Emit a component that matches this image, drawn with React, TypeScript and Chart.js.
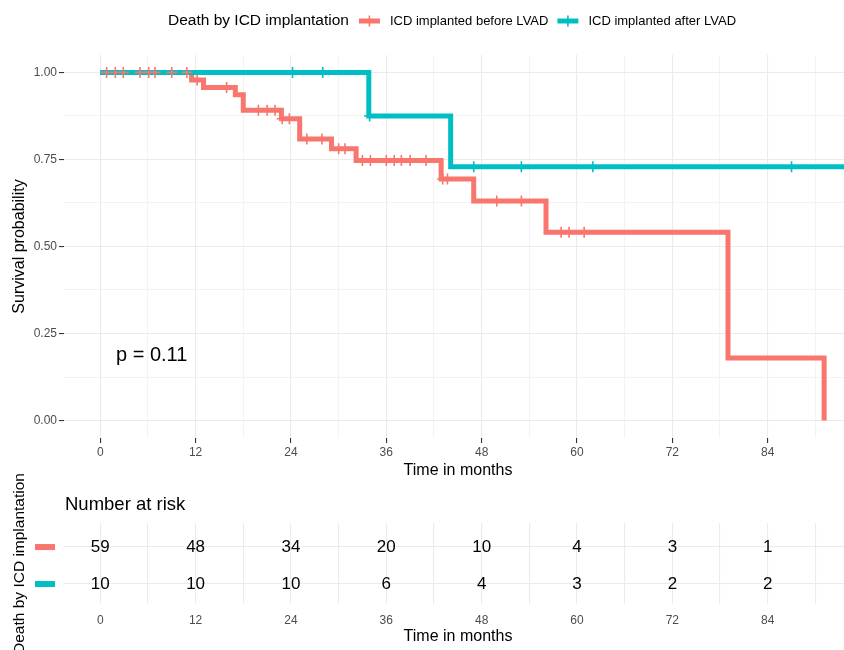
import React, { useEffect, useRef } from 'react';
import { Chart, registerables } from 'chart.js';

Chart.register(...registerables);

const RED = '#F8766D';
const TEAL = '#00BFC4';
const FONT = '"Liberation Sans", Arial, sans-serif';

// Kaplan-Meier steps: ICD implanted before LVAD
const beforeTimes = [0, 11.5, 13.0, 17.0, 18.0, 22.8, 25.1, 29.1, 32.2, 42.9, 47.0, 56.1, 79.0, 91.1];
const beforeSurv = [1, 0.978, 0.957, 0.936, 0.891, 0.867, 0.809, 0.781, 0.747, 0.694, 0.631, 0.541, 0.18, 0];
const beforeCensor = [0.8, 1.9, 2.9, 5.0, 6.1, 6.9, 9.0, 10.9, 12.2, 15.9, 19.9, 21.0, 22.0, 22.9, 23.8, 26.0, 27.9, 30.0, 30.8, 33.0, 34.0, 36.0, 37.0, 37.9, 39.0, 41.0, 43.1, 43.7, 49.9, 53.0, 58.0, 59.0, 60.9];

// Kaplan-Meier steps: ICD implanted after LVAD
const afterTimes = [0, 33.8, 44.1, 95];
const afterSurv = [1, 0.875, 0.729, 0.729];
const afterCensor = [24.2, 28.0, 33.9, 47.0, 53.0, 62.0, 87.0];

// Number at risk table
const riskTimes = [0, 12, 24, 36, 48, 60, 72, 84];
const riskBefore = [59, 48, 34, 20, 10, 4, 3, 1];
const riskAfter = [10, 10, 10, 6, 4, 3, 2, 2];

// Axis breaks
const xBreaks = [0, 6, 12, 18, 24, 30, 36, 42, 48, 54, 60, 66, 72, 78, 84, 90];
const yBreaks = [0, 0.125, 0.25, 0.375, 0.5, 0.625, 0.75, 0.875, 1];

const groupLabels = ['ICD implanted before LVAD', 'ICD implanted after LVAD'];
const legendTitle = 'Death by ICD implantation';
const pValueText = 'p = 0.11';

const X_MIN = -4.56;
const X_MAX = 93.6;

function survAt(times: number[], surv: number[], t: number) {
  let s = surv[0];
  for (let i = 0; i < times.length; i++) {
    if (times[i] <= t) s = surv[i];
  }
  return s;
}

const isMajorX = (v: number) => Math.abs(v % 12) < 1e-9;
const isMajorY = (v: number) => Math.abs((v * 4) - Math.round(v * 4)) < 1e-9;

const BOT_TOP = 455;

export default function App() {
  const topRef = useRef<HTMLCanvasElement>(null);
  const botRef = useRef<HTMLCanvasElement>(null);

  useEffect(() => {
    const topPlugin = {
      id: 'topOverlay',
      afterDraw(chart: any) {
        const ctx = chart.ctx;
        ctx.save();
        // legend
        ctx.textBaseline = 'middle';
        ctx.textAlign = 'left';
        ctx.fillStyle = '#000';
        const ly = 21;
        let x = 168;
        ctx.font = `15.5px ${FONT}`;
        ctx.fillText(legendTitle, x, ly);
        x += ctx.measureText(legendTitle).width + 10;
        const colors = [RED, TEAL];
        ctx.font = `13px ${FONT}`;
        groupLabels.forEach((lab, i) => {
          ctx.strokeStyle = colors[i];
          ctx.lineWidth = 5;
          ctx.beginPath();
          ctx.moveTo(x, ly);
          ctx.lineTo(x + 21, ly);
          ctx.stroke();
          ctx.lineWidth = 1.6;
          ctx.beginPath();
          ctx.moveTo(x + 10.5, ly - 5.5);
          ctx.lineTo(x + 10.5, ly + 5.5);
          ctx.stroke();
          x += 31;
          ctx.fillStyle = '#000';
          ctx.fillText(lab, x, ly);
          x += ctx.measureText(lab).width + 9;
        });
        // axis titles
        ctx.font = `16px ${FONT}`;
        ctx.textAlign = 'center';
        ctx.fillText('Time in months', 458, 471);
        ctx.save();
        ctx.translate(20, (chart.chartArea.top + chart.chartArea.bottom) / 2);
        ctx.rotate(-Math.PI / 2);
        ctx.fillText('Survival probability', 0, 0);
        ctx.restore();
        // p-value
        ctx.font = `20px ${FONT}`;
        ctx.textAlign = 'left';
        ctx.fillText(pValueText, 116, 355);
        ctx.restore();
      },
    };

    const lineDs = (times: number[], surv: number[], color: string, order: number) => ({
      data: times.map((t, i) => ({ x: t, y: surv[i] })),
      borderColor: color,
      backgroundColor: color,
      borderWidth: 5,
      stepped: 'before' as const,
      pointRadius: 0,
      fill: false,
      borderCapStyle: 'butt' as const,
      borderJoinStyle: 'miter' as const,
      order,
    });
    const censorDs = (cens: number[], times: number[], surv: number[], color: string, order: number) => ({
      data: cens.map((t) => ({ x: t, y: survAt(times, surv, t) })),
      showLine: false,
      borderColor: color,
      backgroundColor: color,
      pointStyle: 'cross' as const,
      pointRadius: 5.5,
      pointBorderWidth: 1.6,
      order,
    });

    const xFit = (h: number) => (s: any) => {
      s.height = h;
      s.paddingLeft = 0;
      s.paddingRight = 0;
    };
    const yFit = (s: any) => {
      s.width = 64;
      s.paddingTop = 0;
      s.paddingBottom = 0;
    };

    const top = new Chart(topRef.current!, {
      type: 'line',
      data: {
        datasets: [
          lineDs(beforeTimes, beforeSurv, RED, 4),
          lineDs(afterTimes, afterSurv, TEAL, 3),
          censorDs(beforeCensor, beforeTimes, beforeSurv, RED, 2),
          censorDs(afterCensor, afterTimes, afterSurv, TEAL, 1),
        ] as any,
      },
      options: {
        responsive: false,
        animation: false,
        events: [],
        layout: { autoPadding: false, padding: { top: 55, left: 0, right: 0, bottom: 0 } },
        plugins: { legend: { display: false }, tooltip: { enabled: false } },
        scales: {
          x: {
            type: 'linear',
            min: X_MIN,
            max: X_MAX,
            afterBuildTicks: (s: any) => {
              s.ticks = xBreaks.map((v) => ({ value: v }));
            },
            afterFit: xFit(47),
            border: { display: false },
            grid: {
              color: (c: any) => (c.tick && isMajorX(c.tick.value) ? '#EBEBEB' : '#F3F3F3'),
              lineWidth: 1.1,
              drawTicks: true,
              tickLength: 5,
              tickWidth: 1.1,
              tickColor: (c: any) => (c.tick && isMajorX(c.tick.value) ? '#333333' : 'rgba(0,0,0,0)'),
            },
            ticks: {
              autoSkip: false,
              maxRotation: 0,
              padding: 2,
              color: '#4D4D4D',
              font: { family: FONT, size: 12 },
              callback: (v: any) => (isMajorX(Number(v)) ? String(v) : ''),
            },
          },
          y: {
            type: 'linear',
            min: -0.05,
            max: 1.05,
            afterBuildTicks: (s: any) => {
              s.ticks = yBreaks.map((v) => ({ value: v }));
            },
            afterFit: yFit,
            border: { display: false },
            grid: {
              color: (c: any) => (c.tick && isMajorY(c.tick.value) ? '#EBEBEB' : '#F3F3F3'),
              lineWidth: 1.1,
              drawTicks: true,
              tickLength: 5,
              tickWidth: 1.1,
              tickColor: (c: any) => (c.tick && isMajorY(c.tick.value) ? '#333333' : 'rgba(0,0,0,0)'),
            },
            ticks: {
              autoSkip: false,
              padding: 2,
              color: '#4D4D4D',
              font: { family: FONT, size: 12 },
              callback: (v: any) => (isMajorY(Number(v)) ? Number(v).toFixed(2) : ''),
            },
          },
        },
      },
      plugins: [topPlugin],
    });

    const botPlugin = {
      id: 'botOverlay',
      afterDraw(chart: any) {
        const ctx = chart.ctx;
        const xs = chart.scales.x;
        const ys = chart.scales.y;
        ctx.save();
        ctx.fillStyle = '#000';
        ctx.textBaseline = 'middle';
        ctx.textAlign = 'left';
        ctx.font = `18.5px ${FONT}`;
        ctx.fillText('Number at risk', 65, 505 - BOT_TOP);
        ctx.font = `17px ${FONT}`;
        ctx.textAlign = 'center';
        riskTimes.forEach((t, i) => {
          ctx.fillText(String(riskBefore[i]), xs.getPixelForValue(t), ys.getPixelForValue(1));
          ctx.fillText(String(riskAfter[i]), xs.getPixelForValue(t), ys.getPixelForValue(0));
        });
        ctx.fillStyle = RED;
        ctx.fillRect(35, ys.getPixelForValue(1) - 3, 20, 6);
        ctx.fillStyle = TEAL;
        ctx.fillRect(35, ys.getPixelForValue(0) - 3, 20, 6);
        ctx.fillStyle = '#000';
        ctx.font = `16px ${FONT}`;
        ctx.fillText('Time in months', 458, 637 - BOT_TOP);
        ctx.save();
        ctx.translate(20, (chart.chartArea.top + chart.chartArea.bottom) / 2);
        ctx.rotate(-Math.PI / 2);
        ctx.font = `15.5px ${FONT}`;
        ctx.fillText(legendTitle, 0, 0);
        ctx.restore();
        ctx.restore();
      },
    };

    const bot = new Chart(botRef.current!, {
      type: 'line',
      data: { datasets: [{ data: [], pointRadius: 0 }] as any },
      options: {
        responsive: false,
        animation: false,
        events: [],
        layout: { autoPadding: false, padding: { top: 523 - BOT_TOP, left: 0, right: 0, bottom: 0 } },
        plugins: { legend: { display: false }, tooltip: { enabled: false } },
        scales: {
          x: {
            type: 'linear',
            min: X_MIN,
            max: X_MAX,
            afterBuildTicks: (s: any) => {
              s.ticks = xBreaks.map((v) => ({ value: v }));
            },
            afterFit: xFit(46),
            border: { display: false },
            grid: { color: '#EBEBEB', lineWidth: 1.1, drawTicks: false },
            ticks: {
              autoSkip: false,
              maxRotation: 0,
              padding: 9,
              color: '#4D4D4D',
              font: { family: FONT, size: 12 },
              callback: (v: any) => (isMajorX(Number(v)) ? String(v) : ''),
            },
          },
          y: {
            type: 'linear',
            min: -0.54,
            max: 1.65,
            afterBuildTicks: (s: any) => {
              s.ticks = [0, 1].map((v) => ({ value: v }));
            },
            afterFit: yFit,
            border: { display: false },
            grid: { color: '#EBEBEB', lineWidth: 1.1, drawTicks: false },
            ticks: { display: false },
          },
        },
      },
      plugins: [botPlugin],
    });

    return () => {
      top.destroy();
      bot.destroy();
    };
  }, []);

  return (
    <div style={{ position: 'absolute', left: 0, top: 0, width: 844, height: 650, background: '#fff', overflow: 'hidden' }}>
      <canvas ref={topRef} width={844} height={485} style={{ display: 'block', position: 'absolute', left: 0, top: 0 }} />
      <canvas ref={botRef} width={844} height={650 - BOT_TOP} style={{ display: 'block', position: 'absolute', left: 0, top: BOT_TOP }} />
    </div>
  );
}
